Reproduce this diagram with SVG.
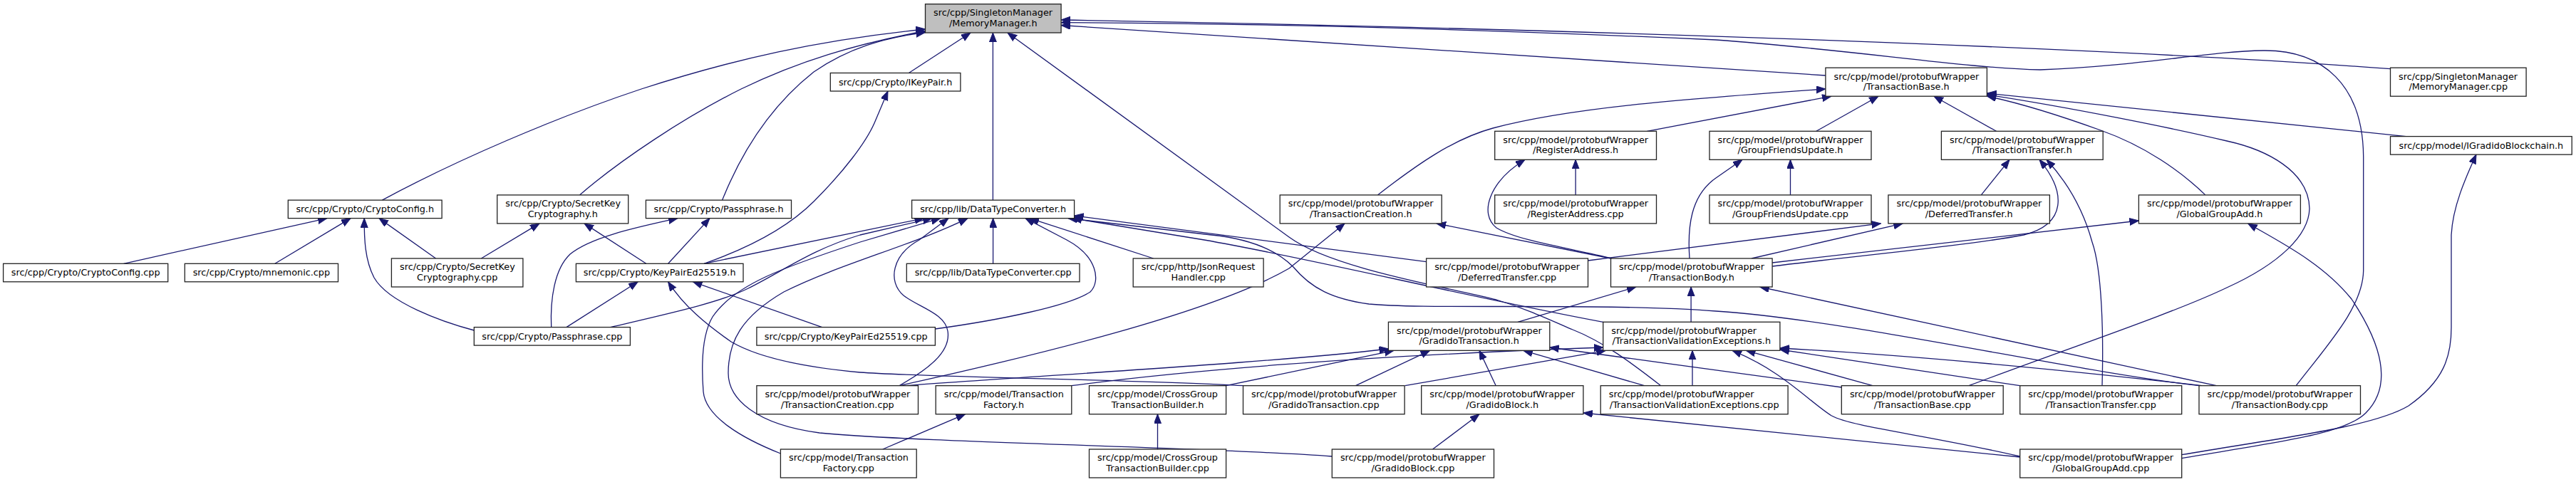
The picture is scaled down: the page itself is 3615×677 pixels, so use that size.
<svg xmlns="http://www.w3.org/2000/svg" width="3615" height="677" viewBox="0 0 3615 677">
<style>
.n rect{fill:#fff;stroke:#222;stroke-width:1.3}
.root rect{fill:#bfbfbf}
text{font-family:"DejaVu Sans","Liberation Sans",sans-serif;font-size:12.8px;fill:#000}
.m{text-anchor:middle}
#edges path{fill:none;stroke:#191970;stroke-width:1.3;marker-end:url(#ah)}
</style>
<defs>
<marker id="ah" markerWidth="14" markerHeight="11" refX="13" refY="5" orient="auto" markerUnits="userSpaceOnUse"><path d="M0,0 L13,5 L0,10 z" fill="#191970" stroke="#191970" stroke-width="1"/></marker>
</defs>
<rect width="3615" height="677" fill="#fff"/>
<g id="edges">
<path d="M 536.3,281.1 C 640,225 780,165 900,125 C 1030,83 1150,56 1298.5,41"/>
<path d="M 813.4,273.9 C 870,225 960,165 1040,125 C 1120,86 1200,62 1298.5,43.5"/>
<path d="M 1013.6,281.1 C 1040,215 1080,150 1142,101 C 1190,68 1240,53 1298.5,45.5"/>
<path d="M 1275.4,102.5 L 1362,46"/>
<path d="M 1393.4,281.1 L 1393.4,46"/>
<path d="M 2330.7,541.7 C 2290,510 2250,480 2207,463 C 2170,447 2140,433 2100,421 C 2040,405 1870,378 1809,333 L 1414,46"/>
<path d="M 2561.9,106 L 1489.1,35.5"/>
<path d="M 3354.5,96.7 C 3000,70 2300,42 1489.1,28"/>
<path d="M 3222.2,541.7 C 3270,480 3316,430 3316.7,380 L 3316.7,220 C 3316,120 3260,70 3176,71 C 3100,72 3000,93 2863,98 C 2760,96 2600,70 2408,56 C 2100,42 1800,33 1489.1,31.7"/>
<path d="M 988,370.3 C 1060,345 1110,315 1142,283 C 1185,240 1215,200 1227,173 L 1246,128"/>
<path d="M 1933.3,273.9 C 1990,230 2040,195 2095,180 C 2200,152 2350,140 2561.9,125"/>
<path d="M 2311.4,184.3 L 2570,135.2"/>
<path d="M 2548.8,184.3 L 2636,135.2"/>
<path d="M 2801.5,184.3 L 2714,135.2"/>
<path d="M 3376.5,191.6 L 2788.4,131"/>
<path d="M 2763,541.7 C 2900,490 3050,440 3125,404 C 3200,370 3240,330 3241,293 C 3240,240 3180,210 3125,198 C 3050,180 2900,150 2788.4,133"/>
<path d="M 3094.9,273.9 C 3060,240 3010,205 2948,183 C 2890,162 2840,146 2788.4,135"/>
<path d="M 2262,363 C 2200,348 2130,338 2100,320 C 2075,300 2090,255 2140,224.3"/>
<path d="M 2211.1,273.9 L 2211.1,224.3"/>
<path d="M 2371,363 C 2368,320 2372,275 2408,250 L 2445,224.3"/>
<path d="M 2512.5,273.9 L 2512.5,224.3"/>
<path d="M 2780.3,273.9 L 2820,224.3"/>
<path d="M 2487.1,374 C 2600,360 2760,345 2840,330 C 2900,315 2900,270 2862,224.3"/>
<path d="M 2950,541.7 C 2952,470 2950,380 2936,340 C 2925,300 2905,260 2872,224.3"/>
<path d="M 3061.7,638.7 C 3200,615 3330,600 3380,570 C 3430,535 3440,500 3440,460 L 3440,330 C 3442,290 3460,250 3475,217.1"/>
<path d="M 173.6,370.3 L 459,306.6"/>
<path d="M 385.8,370.3 L 492,306.6"/>
<path d="M 665.3,464 C 620,452 545,425 525,390 C 512,365 511,335 511.2,306.6"/>
<path d="M 611.6,363 L 532,306.6"/>
<path d="M 675.3,363 L 757,313.9"/>
<path d="M 906.8,370.3 L 820,313.9"/>
<path d="M 773.7,459.6 C 772,420 778,378 800,357 C 830,332 900,318 951,306.6"/>
<path d="M 937.6,370.3 L 996,306.6"/>
<path d="M 988,370.3 L 1296.6,306.6"/>
<path d="M 856.6,459.6 C 940,440 1010,425 1050,405 C 1100,380 1140,350 1207,330 L 1308,306.6"/>
<path d="M 1095.4,637 C 1040,615 990,585 987,550 C 984,510 985,470 1000,445 C 1030,400 1100,375 1207,340 L 1319.7,306.6"/>
<path d="M 1262,541.7 C 1300,520 1335,495 1330,465 C 1326,440 1290,432 1268,415 C 1245,395 1252,358 1290,337 L 1331,306.6"/>
<path d="M 1869.3,641 C 1700,628 1300,622 1150,608 C 1060,596 1022,560 1022,524 C 1022,480 1040,445 1100,410 C 1180,370 1280,345 1358,306.6"/>
<path d="M 1393.6,370.3 L 1393.6,306.6"/>
<path d="M 1312.4,462 C 1400,450 1500,430 1530,410 C 1545,395 1540,360 1497,337 L 1439,306.6"/>
<path d="M 1618.7,363 L 1445,306.6"/>
<path d="M 3086,541.7 C 2900,520 2600,450 2408,437 C 2250,425 2000,435 1921,427 C 1870,420 1840,405 1815,375 C 1790,350 1750,335 1700,330 L 1499,306.6"/>
<path d="M 2249.7,452.3 C 2050,415 1850,365 1690,337 L 1505,306.6"/>
<path d="M 2001.6,367.7 L 1507.6,303"/>
<path d="M 1153.7,459.6 L 972.4,395.8"/>
<path d="M 794.9,459.6 L 895.2,395.8"/>
<path d="M 1744.5,541.7 C 1600,533 1300,530 1207,523 C 1120,515 1060,500 1026,480 C 990,455 960,430 937.6,395.8"/>
<path d="M 1262,541.7 C 1450,500 1700,440 1809,377 L 1887,313.9"/>
<path d="M 2260.5,363 L 2016,313.9"/>
<path d="M 2458,363 L 2670.3,313.9"/>
<path d="M 2228.5,366 L 2639.5,313.9"/>
<path d="M 2487.1,369 L 3001.4,310"/>
<path d="M 3061.7,643.7 C 3200,620 3290,610 3320,580 C 3360,540 3340,480 3300,420 C 3260,370 3200,340 3154.7,313.9"/>
<path d="M 1238.7,631 L 1354.5,581.7"/>
<path d="M 1624.5,631 L 1624.5,581.7"/>
<path d="M 2010.5,631 L 2076,581.7"/>
<path d="M 1270,541.7 C 1500,525 1800,508 1948.4,490"/>
<path d="M 1720.6,541.7 L 1956,492.3"/>
<path d="M 1503.8,541.7 C 1650,522 1900,500 2249.7,488"/>
<path d="M 1902.5,541.7 L 2006.6,492.3"/>
<path d="M 2099.2,541.7 L 2076,492.3"/>
<path d="M 2307.5,541.7 L 2137.8,492.3"/>
<path d="M 2584.3,544 L 2174.8,488"/>
<path d="M 1971.9,541.7 L 2253.5,492.3"/>
<path d="M 2375,541.7 L 2375,492.3"/>
<path d="M 2834.7,641 C 2700,610 2600,600 2570,583.7 C 2540,565 2500,520 2431,492.3"/>
<path d="M 2627.9,541.7 L 2450.4,492.3"/>
<path d="M 3090,541.7 C 2900,520 2700,500 2497.9,489"/>
<path d="M 2834.3,541.7 L 2497.9,491"/>
<path d="M 2130,452.3 L 2296,403"/>
<path d="M 2373.1,452.3 L 2373.1,403"/>
<path d="M 3110.3,541.7 L 2469.7,403"/>
<path d="M 2834.7,642 L 2221.9,580"/>
</g>
<g id="n_mm_h" class="n root"><rect x="1298.5" y="5.7" width="190.6" height="40.3"/><text x="1310.1" y="22.2">src/cpp/SingletonManager</text><text class="m" x="1393.8" y="36.9">/MemoryManager.h</text></g>
<g id="n_ikeypair_h" class="n"><rect x="1165.3" y="102.5" width="182.6" height="25.5"/><text class="m" x="1256.6" y="119.6">src/cpp/Crypto/IKeyPair.h</text></g>
<g id="n_tbase_h" class="n"><rect x="2561.9" y="95.2" width="226.5" height="40"/><text x="2573.5" y="111.5">src/cpp/model/protobufWrapper</text><text class="m" x="2675.2" y="126.2">/TransactionBase.h</text></g>
<g id="n_mm_cpp" class="n"><rect x="3354.5" y="95.2" width="190.6" height="40"/><text x="3366.1" y="111.5">src/cpp/SingletonManager</text><text class="m" x="3449.8" y="126.2">/MemoryManager.cpp</text></g>
<g id="n_ra_h" class="n"><rect x="2097.7" y="184.3" width="226.8" height="40"/><text x="2109.3" y="200.6">src/cpp/model/protobufWrapper</text><text class="m" x="2211.1" y="215.3">/RegisterAddress.h</text></g>
<g id="n_gfu_h" class="n"><rect x="2399" y="184.3" width="227" height="40"/><text x="2410.6" y="200.6">src/cpp/model/protobufWrapper</text><text class="m" x="2512.5" y="215.3">/GroupFriendsUpdate.h</text></g>
<g id="n_tt_h" class="n"><rect x="2724.4" y="184.3" width="226.8" height="40"/><text x="2736" y="200.6">src/cpp/model/protobufWrapper</text><text class="m" x="2837.8" y="215.3">/TransactionTransfer.h</text></g>
<g id="n_igb_h" class="n"><rect x="3354.5" y="191.6" width="254.7" height="25.5"/><text class="m" x="3481.9" y="208.7">src/cpp/model/IGradidoBlockchain.h</text></g>
<g id="n_cc_h" class="n"><rect x="404.3" y="281.1" width="215.8" height="25.5"/><text class="m" x="512.2" y="298.3">src/cpp/Crypto/CryptoConfig.h</text></g>
<g id="n_skc_h" class="n"><rect x="697.7" y="273.9" width="184" height="40"/><text x="709.3" y="290.2">src/cpp/Crypto/SecretKey</text><text class="m" x="789.7" y="304.9">Cryptography.h</text></g>
<g id="n_pass_h" class="n"><rect x="906.4" y="281.1" width="204.1" height="25.5"/><text class="m" x="1008.5" y="298.3">src/cpp/Crypto/Passphrase.h</text></g>
<g id="n_dtc_h" class="n"><rect x="1279.6" y="281.1" width="228" height="25.5"/><text class="m" x="1393.6" y="298.3">src/cpp/lib/DataTypeConverter.h</text></g>
<g id="n_tc_h" class="n"><rect x="1796.2" y="273.9" width="227" height="40"/><text x="1807.8" y="290.2">src/cpp/model/protobufWrapper</text><text class="m" x="1909.7" y="304.9">/TransactionCreation.h</text></g>
<g id="n_ra_cpp" class="n"><rect x="2097.7" y="273.9" width="226.8" height="40"/><text x="2109.3" y="290.2">src/cpp/model/protobufWrapper</text><text class="m" x="2211.1" y="304.9">/RegisterAddress.cpp</text></g>
<g id="n_gfu_cpp" class="n"><rect x="2399" y="273.9" width="227" height="40"/><text x="2410.6" y="290.2">src/cpp/model/protobufWrapper</text><text class="m" x="2512.5" y="304.9">/GroupFriendsUpdate.cpp</text></g>
<g id="n_dt_h" class="n"><rect x="2649.9" y="273.9" width="226.5" height="40"/><text x="2661.5" y="290.2">src/cpp/model/protobufWrapper</text><text class="m" x="2763.2" y="304.9">/DeferredTransfer.h</text></g>
<g id="n_gga_h" class="n"><rect x="3001.4" y="273.9" width="227" height="40"/><text x="3013" y="290.2">src/cpp/model/protobufWrapper</text><text class="m" x="3114.9" y="304.9">/GlobalGroupAdd.h</text></g>
<g id="n_cc_cpp" class="n"><rect x="4.6" y="370.3" width="231.1" height="25.5"/><text class="m" x="120.2" y="387.4">src/cpp/Crypto/CryptoConfig.cpp</text></g>
<g id="n_mnemonic_cpp" class="n"><rect x="259.3" y="370.3" width="215.2" height="25.5"/><text class="m" x="366.9" y="387.4">src/cpp/Crypto/mnemonic.cpp</text></g>
<g id="n_skc_cpp" class="n"><rect x="549.4" y="363" width="184.5" height="40"/><text x="561" y="379.3">src/cpp/Crypto/SecretKey</text><text class="m" x="641.7" y="394">Cryptography.cpp</text></g>
<g id="n_kp_h" class="n"><rect x="808.4" y="370.3" width="234.6" height="25.5"/><text class="m" x="925.7" y="387.4">src/cpp/Crypto/KeyPairEd25519.h</text></g>
<g id="n_dtc_cpp" class="n"><rect x="1272.3" y="370.3" width="242.7" height="25.5"/><text class="m" x="1393.7" y="387.4">src/cpp/lib/DataTypeConverter.cpp</text></g>
<g id="n_jrh_cpp" class="n"><rect x="1590.2" y="363" width="182.9" height="40"/><text x="1601.8" y="379.3">src/cpp/http/JsonRequest</text><text class="m" x="1681.7" y="394">Handler.cpp</text></g>
<g id="n_dt_cpp" class="n"><rect x="2001.6" y="363" width="226.9" height="40"/><text x="2013.2" y="379.3">src/cpp/model/protobufWrapper</text><text class="m" x="2115.1" y="394">/DeferredTransfer.cpp</text></g>
<g id="n_tb_h" class="n"><rect x="2260.5" y="363" width="226.6" height="40"/><text x="2272.1" y="379.3">src/cpp/model/protobufWrapper</text><text class="m" x="2373.8" y="394">/TransactionBody.h</text></g>
<g id="n_pass_cpp" class="n"><rect x="665.3" y="459.6" width="219.1" height="25.5"/><text class="m" x="774.9" y="476.7">src/cpp/Crypto/Passphrase.cpp</text></g>
<g id="n_kp_cpp" class="n"><rect x="1061.9" y="459.6" width="250.5" height="25.5"/><text class="m" x="1187.2" y="476.7">src/cpp/Crypto/KeyPairEd25519.cpp</text></g>
<g id="n_gt_h" class="n"><rect x="1948.4" y="452.3" width="226.4" height="40"/><text x="1960" y="468.6">src/cpp/model/protobufWrapper</text><text class="m" x="2061.6" y="483.3">/GradidoTransaction.h</text></g>
<g id="n_tve_h" class="n"><rect x="2249.7" y="452.3" width="248.2" height="40"/><text x="2261.3" y="468.6">src/cpp/model/protobufWrapper</text><text class="m" x="2373.8" y="483.3">/TransactionValidationExceptions.h</text></g>
<g id="n_tc_cpp" class="n"><rect x="1061.9" y="541.7" width="226.6" height="40"/><text x="1073.5" y="558">src/cpp/model/protobufWrapper</text><text class="m" x="1175.2" y="572.7">/TransactionCreation.cpp</text></g>
<g id="n_tf_h" class="n"><rect x="1313.2" y="541.7" width="190.6" height="40"/><text x="1324.8" y="558">src/cpp/model/Transaction</text><text class="m" x="1408.5" y="572.7">Factory.h</text></g>
<g id="n_cgtb_h" class="n"><rect x="1528.5" y="541.7" width="192.1" height="40"/><text x="1540.1" y="558">src/cpp/model/CrossGroup</text><text class="m" x="1624.6" y="572.7">TransactionBuilder.h</text></g>
<g id="n_gt_cpp" class="n"><rect x="1744.5" y="541.7" width="226.6" height="40"/><text x="1756.1" y="558">src/cpp/model/protobufWrapper</text><text class="m" x="1857.8" y="572.7">/GradidoTransaction.cpp</text></g>
<g id="n_gb_h" class="n"><rect x="1994.7" y="541.7" width="227.2" height="40"/><text x="2006.3" y="558">src/cpp/model/protobufWrapper</text><text class="m" x="2108.3" y="572.7">/GradidoBlock.h</text></g>
<g id="n_tve_cpp" class="n"><rect x="2246.2" y="541.7" width="262.9" height="40"/><text x="2257.8" y="558">src/cpp/model/protobufWrapper</text><text class="m" x="2377.7" y="572.7">/TransactionValidationExceptions.cpp</text></g>
<g id="n_tbase_cpp" class="n"><rect x="2584.3" y="541.7" width="226.9" height="40"/><text x="2595.9" y="558">src/cpp/model/protobufWrapper</text><text class="m" x="2697.8" y="572.7">/TransactionBase.cpp</text></g>
<g id="n_tt_cpp" class="n"><rect x="2834.7" y="541.7" width="227" height="40"/><text x="2846.3" y="558">src/cpp/model/protobufWrapper</text><text class="m" x="2948.2" y="572.7">/TransactionTransfer.cpp</text></g>
<g id="n_tbody_cpp" class="n"><rect x="3086" y="541.7" width="226.5" height="40"/><text x="3097.6" y="558">src/cpp/model/protobufWrapper</text><text class="m" x="3199.3" y="572.7">/TransactionBody.cpp</text></g>
<g id="n_tf_cpp" class="n"><rect x="1095.4" y="631" width="190.8" height="40"/><text x="1107" y="647.3">src/cpp/model/Transaction</text><text class="m" x="1190.8" y="662">Factory.cpp</text></g>
<g id="n_cgtb_cpp" class="n"><rect x="1528.5" y="631" width="192.1" height="40"/><text x="1540.1" y="647.3">src/cpp/model/CrossGroup</text><text class="m" x="1624.6" y="662">TransactionBuilder.cpp</text></g>
<g id="n_gb_cpp" class="n"><rect x="1869.3" y="631" width="227.2" height="40"/><text x="1880.9" y="647.3">src/cpp/model/protobufWrapper</text><text class="m" x="1982.9" y="662">/GradidoBlock.cpp</text></g>
<g id="n_gga_cpp" class="n"><rect x="2834.7" y="631" width="227" height="40"/><text x="2846.3" y="647.3">src/cpp/model/protobufWrapper</text><text class="m" x="2948.2" y="662">/GlobalGroupAdd.cpp</text></g>
</svg>
